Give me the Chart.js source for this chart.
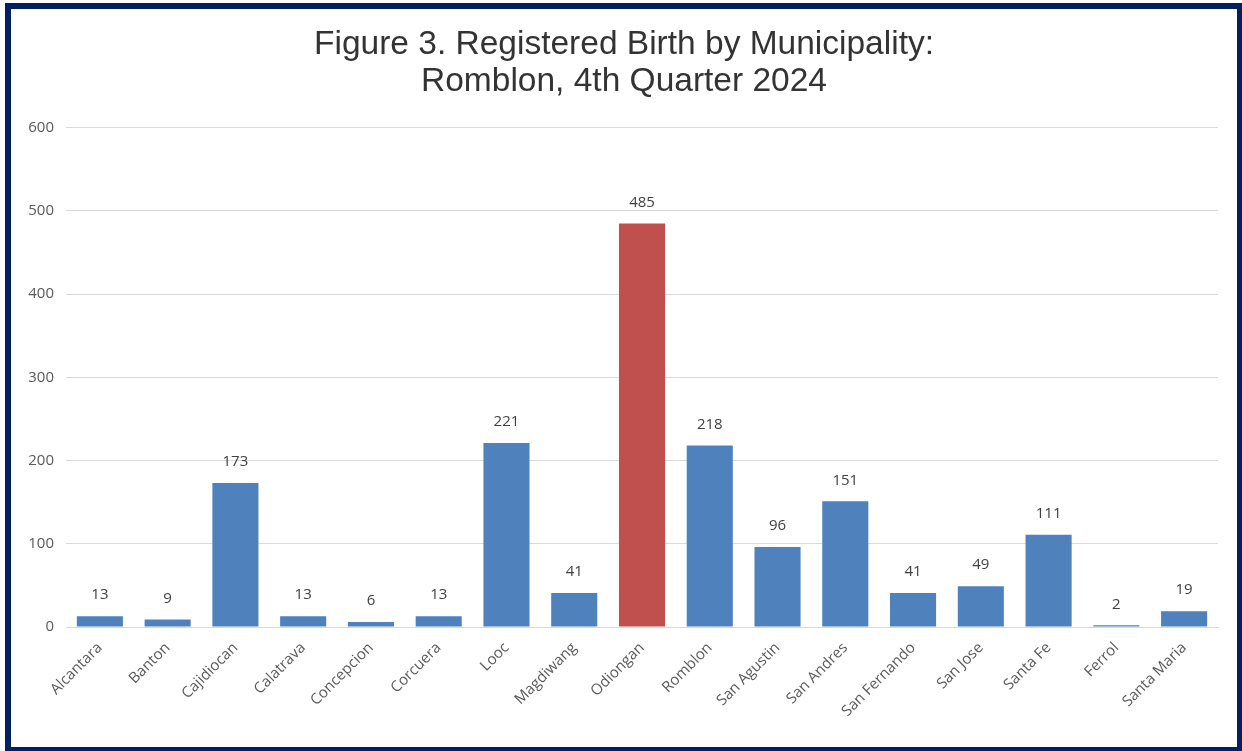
<!DOCTYPE html>
<html>
<head>
<meta charset="utf-8">
<script src="https://cdn.jsdelivr.net/npm/chart.js@4.4.1/dist/chart.umd.min.js"></script>
<style>
  html, body { margin: 0; padding: 0; background: #fff; }
  #frame {
    position: absolute; left: 5px; top: 3px;
    width: 1226px; height: 738px;
    border: 6px solid #002060;
    background: #fff;
  }
  canvas { display: block; }
</style>
</head>
<body>
<div id="frame"><canvas id="birthChart" width="1226" height="738"></canvas></div>
<script>
// Registered births, Romblon, Q4 2024
const municipalities = ["Alcantara", "Banton", "Cajidiocan", "Calatrava", "Concepcion", "Corcuera",
  "Looc", "Magdiwang", "Odiongan", "Romblon", "San Agustin", "San Andres", "San Fernando",
  "San Jose", "Santa Fe", "Ferrol", "Santa Maria"];
const births = [13, 9, 173, 13, 6, 13, 221, 41, 485, 218, 96, 151, 41, 49, 111, 2, 19];
const yTicks = [0, 100, 200, 300, 400, 500, 600];

const blue = "#4F81BD";
const red = "#C0504D";
const barColors = municipalities.map(m => m === "Odiongan" ? red : blue);

// value labels above each bar
const valueLabels = {
  id: "valueLabels",
  afterDatasetsDraw(chart) {
    const ctx = chart.ctx;
    const meta = chart.getDatasetMeta(0);
    ctx.save();
    ctx.font = "15px 'Open Sans', sans-serif";
    ctx.fillStyle = "#404040";
    ctx.textAlign = "center";
    ctx.textBaseline = "middle";
    meta.data.forEach((bar, i) => {
      ctx.fillText(births[i], bar.x, bar.y - 21);
    });
    ctx.restore();
  }
};

new Chart(document.getElementById("birthChart"), {
  type: "bar",
  data: {
    labels: municipalities,
    datasets: [{
      data: births,
      backgroundColor: barColors,
      barPercentage: 0.68,
      categoryPercentage: 1
    }]
  },
  options: {
    responsive: false,
    animation: false,
    layout: { padding: 0 },
    plugins: {
      legend: { display: false },
      tooltip: { enabled: false },
      title: {
        display: true,
        text: ["Figure 3. Registered Birth by Municipality:", "Romblon, 4th Quarter 2024"],
        color: "#333333",
        font: { family: "'Liberation Sans', Arial, sans-serif", size: 33.5, weight: "normal", lineHeight: 1.1 },
        padding: { top: 17, bottom: 28 }
      }
    },
    scales: {
      y: {
        min: 0,
        max: 600,
        afterBuildTicks: s => { s.ticks = yTicks.map(v => ({ value: v })); },
        afterFit: s => { s.width = 55; },
        border: { display: false },
        grid: { color: "#d9d9d9", lineWidth: 1, drawTicks: false },
        ticks: {
          padding: 12,
          color: "#595959",
          font: { family: "'Open Sans', sans-serif", size: 15 }
        }
      },
      // empty right axis only to keep a right margin
      yRight: {
        position: "right",
        min: 0,
        max: 600,
        afterFit: s => { s.width = 19; },
        border: { display: false },
        grid: { display: false },
        ticks: { display: false }
      },
      x: {
        afterFit: s => { s.height = 120; },
        border: { display: true, color: "#d9d9d9" },
        grid: { display: false },
        ticks: {
          minRotation: 45,
          maxRotation: 45,
          padding: 4,
          color: "#595959",
          font: { family: "'Open Sans', sans-serif", size: 15 }
        }
      }
    }
  },
  plugins: [valueLabels]
});
</script>
</body>
</html>
